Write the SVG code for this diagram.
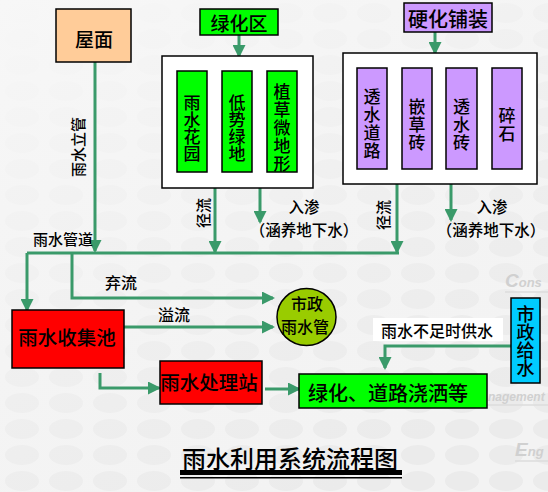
<svg xmlns="http://www.w3.org/2000/svg" width="548" height="492" viewBox="0 0 548 492">
<style>
.t{font-family:"Noto Sans CJK SC","Noto Sans",sans-serif;fill:#000;dominant-baseline:central;text-anchor:middle;font-weight:500}
.v{font-family:"Noto Sans CJK SC","Noto Sans",sans-serif;fill:#000;text-anchor:middle;writing-mode:vertical-rl;font-weight:500}
.box{stroke:#000;stroke-width:1.5}
.frame{fill:#fff;stroke:#000;stroke-width:1.5}
.c{fill:none;stroke:#3a9a6a;stroke-width:3}
.wm{font-family:"Liberation Sans",Arial,sans-serif;font-weight:bold;font-style:italic;fill:#d0d0d0}
</style>
<defs>
<marker id="ah" markerUnits="userSpaceOnUse" markerWidth="13" markerHeight="13" refX="11" refY="6.5" orient="auto">
<path d="M0,0 L13,6.5 L0,13 z" fill="#3a9a6a"/>
</marker>
<pattern id="bgp" width="44" height="26" patternUnits="userSpaceOnUse">
<ellipse cx="22" cy="13" rx="17" ry="10" fill="#e9e9e9"/>
</pattern>
<linearGradient id="fade" x1="0" y1="0" x2="0.6" y2="1">
<stop offset="0" stop-color="#f7f7f7" stop-opacity="1"/>
<stop offset="0.5" stop-color="#f5f5f5" stop-opacity="0.6"/>
<stop offset="1" stop-color="#f3f3f3" stop-opacity="0.2"/>
</linearGradient>
</defs>
<rect width="548" height="492" fill="#f3f3f3"/>
<rect width="548" height="492" fill="url(#bgp)"/>
<rect width="548" height="492" fill="url(#fade)"/>
<g id="watermark">
<text class="wm" x="505" y="287" font-size="19">C<tspan font-size="13">ons</tspan></text>
<line x1="505" y1="292" x2="548" y2="292" stroke="#dcdcdc" stroke-width="1.5"/>
<text class="wm" x="488" y="401" font-size="12">nagement</text>
<line x1="487" y1="405" x2="548" y2="405" stroke="#dcdcdc" stroke-width="1.5"/>
<text class="wm" x="515" y="456" font-size="19">E<tspan font-size="13">ng</tspan></text>
<line x1="515" y1="461" x2="548" y2="461" stroke="#dcdcdc" stroke-width="1.5"/>
</g>
<g id="connectors">
<path class="c" d="M95,62 V251" marker-end="url(#ah)"/>
<path class="c" d="M239,35 V56" marker-end="url(#ah)"/>
<path class="c" d="M435,32 V53" marker-end="url(#ah)"/>
<path class="c" d="M215,188 V252" marker-end="url(#ah)"/>
<path class="c" d="M260,188 V222" marker-end="url(#ah)"/>
<path class="c" d="M397,184 V252" marker-end="url(#ah)"/>
<path class="c" d="M451,184 V220" marker-end="url(#ah)"/>
<path class="c" d="M27,253 H399"/>
<path class="c" d="M27,253 V310" marker-end="url(#ah)"/>
<path class="c" d="M72,253 V298 H273" marker-end="url(#ah)"/>
<path class="c" d="M124,327 H273" marker-end="url(#ah)"/>
<path class="c" d="M100,373 V388 H159" marker-end="url(#ah)"/>
<path class="c" d="M265,389 H299" marker-end="url(#ah)"/>
<path class="c" d="M511,346 H385 V368" marker-end="url(#ah)"/>
</g>
<g id="labels">
<text class="t" font-size="15" transform="translate(77,147) rotate(-90)">雨水立管</text>
<text class="t" font-size="15" x="63" y="238">雨水管道</text>
<text class="t" font-size="15" transform="translate(202,213) rotate(-90)">径流</text>
<text class="t" font-size="15" transform="translate(382,215) rotate(-90)">径流</text>
<text class="t" font-size="15.5" x="304" y="205.5">入渗</text>
<text class="t" font-size="15.5" x="304" y="228.5">（涵养地下水）</text>
<text class="t" font-size="15.5" x="492" y="205.5">入渗</text>
<text class="t" font-size="15.5" x="491" y="228.5">（涵养地下水）</text>
<text class="t" font-size="16" x="121" y="282">弃流</text>
<text class="t" font-size="16" x="174" y="314">溢流</text>
</g>
<g id="roof">
<rect class="box" x="56" y="9" width="75" height="53" fill="#ffcc99"/>
<text class="t" font-size="19" x="94" y="38">屋面</text>
</g>
<g id="greenarea">
<rect class="box" x="200" y="9" width="78" height="26" fill="#00ff00"/>
<text class="t" font-size="19" x="239" y="22">绿化区</text>
</g>
<g id="greenframe">
<rect class="frame" x="162" y="56" width="151" height="132"/>
</g>
<g id="raingarden">
<rect class="box" x="177" y="71" width="30" height="101" fill="#00ff00"/>
<text class="v" font-size="17" x="192" y="128">雨水花园</text>
</g>
<g id="lowgreen">
<rect class="box" x="222" y="71" width="30" height="101" fill="#00ff00"/>
<text class="v" font-size="17" x="237" y="128">低势绿地</text>
</g>
<g id="grassterrain">
<rect class="box" x="267" y="71" width="30" height="101" fill="#00ff00"/>
<text class="v" font-size="17" x="282" y="128" letter-spacing="1">植草微地形</text>
</g>
<g id="hardpaving">
<rect class="box" x="404" y="3" width="88" height="29" fill="#cc99ff"/>
<text class="t" font-size="20" x="448" y="18">硬化铺装</text>
</g>
<g id="hardframe">
<rect class="frame" x="343" y="53" width="194" height="131"/>
</g>
<g id="permroad">
<rect class="box" x="357" y="68" width="30" height="101" fill="#cc99ff"/>
<text class="v" font-size="17" x="372" y="124" letter-spacing="1">透水道路</text>
</g>
<g id="grassbrick">
<rect class="box" x="402" y="68" width="30" height="101" fill="#cc99ff"/>
<text class="v" font-size="17" x="417" y="125" letter-spacing="1">嵌草砖</text>
</g>
<g id="permbrick">
<rect class="box" x="446" y="68" width="31" height="101" fill="#cc99ff"/>
<text class="v" font-size="17" x="461.5" y="125" letter-spacing="1">透水砖</text>
</g>
<g id="gravel">
<rect class="box" x="492" y="68" width="30" height="101" fill="#cc99ff"/>
<text class="v" font-size="17" x="507" y="125" letter-spacing="1">碎石</text>
</g>
<g id="collectpool">
<rect class="box" x="12" y="310" width="112" height="58" fill="#ff0000"/>
<text class="t" font-size="19.5" x="67" y="336">雨水收集池</text>
</g>
<g id="municipalpipe">
<ellipse class="box" cx="306.5" cy="317" rx="29.5" ry="28.5" fill="#99cc00"/>
<text class="t" font-size="16"><tspan x="307" y="302.5">市政</tspan><tspan x="305" y="326">雨水管</tspan></text>
</g>
<g id="treatment">
<rect class="box" x="160" y="361" width="102" height="43" fill="#ff0000"/>
<text class="t" font-size="19.5" x="209" y="381">雨水处理站</text>
</g>
<g id="usage">
<rect class="box" x="299" y="374" width="188" height="34" fill="#00ff00"/>
<text class="t" font-size="20" x="388" y="392">绿化、道路浇洒等</text>
</g>
<g id="municipalsupply">
<rect class="box" x="511" y="298" width="29" height="85" fill="#00ccff"/>
<text class="v" font-size="18" x="525.5" y="341">市政给水</text>
</g>
<g id="supplylabel">
<rect x="373" y="318" width="130" height="23" fill="#fff"/>
<text class="t" font-size="16" x="437" y="329.5">雨水不足时供水</text>
</g>
<g id="title">
<text class="t" font-size="24" x="290" y="457">雨水利用系统流程图</text>
<rect x="180" y="470" width="222" height="5" fill="#000"/>
<rect x="180" y="477" width="222" height="1.5" fill="#000"/>
</g>
</svg>
